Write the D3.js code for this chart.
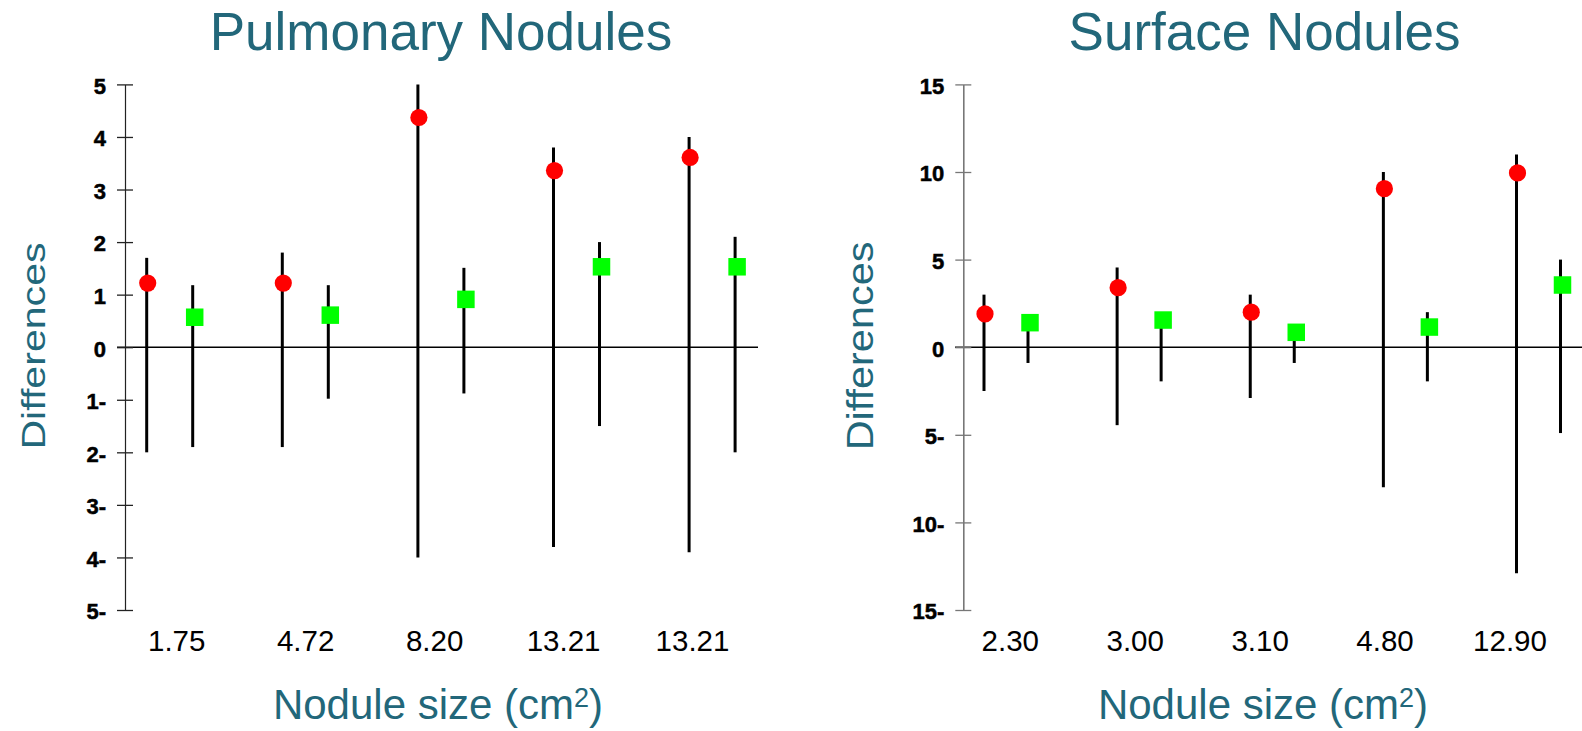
<!DOCTYPE html>
<html>
<head>
<meta charset="utf-8">
<script src="https://cdn.jsdelivr.net/npm/d3@7/dist/d3.min.js"></script>
<style>
  html, body { margin: 0; padding: 0; background: #fff; }
  svg { display: block; }
</style>
</head>
<body>
<svg id="chart" width="1582" height="731"></svg>
<script>
// ---------- Data ----------
const pulmTitle = "Pulmonary Nodules";
const pulmCategories = ["1.75", "4.72", "8.20", "13.21", "13.21"];
const pulmRedMean  = [1.22, 1.22, 4.37, 3.36, 3.61];
const pulmRedHigh  = [1.70, 1.80, 5.00, 3.80, 4.00];
const pulmRedLow   = [-2.00, -1.90, -4.00, -3.80, -3.90];
const pulmGreenMean = [0.57, 0.61, 0.91, 1.53, 1.53];
const pulmGreenHigh = [1.18, 1.18, 1.51, 2.00, 2.10];
const pulmGreenLow  = [-1.90, -0.98, -0.88, -1.50, -2.00];
const pulmTicks = [5, 4, 3, 2, 1, 0, -1, -2, -3, -4, -5];

const surfTitle = "Surface Nodules";
const surfCategories = ["2.30", "3.00", "3.10", "4.80", "12.90"];
const surfRedMean  = [1.90, 3.40, 2.00, 9.05, 9.95];
const surfRedHigh  = [3.00, 4.55, 3.00, 10.00, 11.00];
const surfRedLow   = [-2.50, -4.45, -2.90, -8.00, -12.90];
const surfGreenMean = [1.40, 1.55, 0.85, 1.15, 3.55];
const surfGreenHigh = [1.40, 1.55, 0.85, 2.00, 5.00];
const surfGreenLow  = [-0.90, -1.95, -0.90, -1.95, -4.90];
const surfTicks = [15, 10, 5, 0, -5, -10, -15];

const yTitle = "Differences";
const xTitle = "Nodule size (cm";
const xTitleSup = "2";

// ---------- Styles ----------
const TEAL = "#22677a";
const RED = "#ff0000";
const GREEN = "#00ff00";

const svg = d3.select("#chart");

function drawPanel(o) {
  const g = svg.append("g");
  const y = d3.scaleLinear().domain(o.yDomain).range([610, 84.4]);
  const idx = d3.range(o.categories.length);
  const xc = d3.scalePoint().domain(idx).range(o.pairRange);
  const xl = d3.scalePoint().domain(idx).range(o.labelRange);

  // zero line
  g.append("line")
    .attr("x1", o.zeroX[0]).attr("x2", o.zeroX[1])
    .attr("y1", y(0)).attr("y2", y(0))
    .attr("stroke", "#000").attr("stroke-width", 1.6);

  // y axis
  const axis = d3.axisLeft(y)
    .tickValues(o.ticks)
    .tickSize(8)
    .tickSizeOuter(0)
    .tickPadding(11)
    .tickFormat(v => v < 0 ? Math.abs(v) + "-" : String(v));
  const ag = g.append("g").attr("transform", `translate(${o.axisX},0)`).call(axis);
  ag.attr("font-size", null).attr("font-family", null);
  ag.select(".domain").attr("stroke", o.axisColor).attr("stroke-width", o.axisWidth);
  ag.selectAll(".tick line").attr("x1", -8).attr("x2", 8)
    .attr("stroke", o.axisColor).attr("stroke-width", 1.3);
  ag.selectAll(".tick text")
    .style("font-family", "'Liberation Sans', Arial, sans-serif")
    .style("font-weight", "bold")
    .style("font-size", "22px")
    .attr("fill", "#000")
    .attr("stroke", "#000")
    .attr("stroke-width", 0.5)
    .attr("dy", "0.4em");

  // whiskers
  const stems = [];
  idx.forEach(i => {
    stems.push({x: xc(i) - o.half, lo: o.redLow[i], hi: o.redHigh[i]});
    stems.push({x: xc(i) + o.half, lo: o.greenLow[i], hi: o.greenHigh[i]});
  });
  g.selectAll("line.stem").data(stems).join("line")
    .attr("class", "stem")
    .attr("x1", d => d.x).attr("x2", d => d.x)
    .attr("y1", d => y(d.hi)).attr("y2", d => y(d.lo))
    .attr("stroke", "#000").attr("stroke-width", 3);

  // red circles
  g.selectAll("circle.red").data(idx).join("circle")
    .attr("class", "red")
    .attr("cx", i => xc(i) - o.half + 1)
    .attr("cy", i => y(o.redMean[i]))
    .attr("r", 8.6)
    .attr("fill", RED);

  // green squares
  const s = 17.5;
  g.selectAll("rect.green").data(idx).join("rect")
    .attr("class", "green")
    .attr("x", i => xc(i) + o.half + 2 - s / 2)
    .attr("y", i => y(o.greenMean[i]) - s / 2)
    .attr("width", s).attr("height", s)
    .attr("fill", GREEN);

  // x category labels
  g.selectAll("text.cat").data(idx).join("text")
    .attr("class", "cat")
    .attr("x", i => xl(i))
    .attr("y", 651)
    .attr("text-anchor", "middle")
    .attr("font-family", "'Liberation Sans', Arial, sans-serif")
    .attr("font-size", 29.5)
    .attr("fill", "#000")
    .text(i => o.categories[i]);

  // title
  g.append("text")
    .attr("x", o.titleX).attr("y", 50)
    .attr("text-anchor", "middle")
    .attr("font-family", "'Liberation Sans', Arial, sans-serif")
    .attr("font-size", 53)
    .attr("fill", TEAL)
    .text(o.title);

  // x axis title
  const xt = g.append("text")
    .attr("x", o.xTitleX).attr("y", 719)
    .attr("text-anchor", "middle")
    .attr("font-family", "'Liberation Sans', Arial, sans-serif")
    .attr("font-size", 42)
    .attr("fill", TEAL);
  xt.append("tspan").text(xTitle);
  xt.append("tspan").attr("font-size", 27).attr("dy", -12).text(xTitleSup);
  xt.append("tspan").attr("dy", 12).text(")");

  // y axis title
  g.append("text")
    .attr("transform", `translate(${o.yTitleX},346) rotate(-90) scale(${o.yTitleScale},1)`)
    .attr("text-anchor", "middle")
    .attr("font-family", "'Liberation Sans', Arial, sans-serif")
    .attr("font-size", o.yTitleSize)
    .attr("fill", TEAL)
    .text(yTitle);
}

drawPanel({
  title: pulmTitle, titleX: 441,
  categories: pulmCategories,
  redMean: pulmRedMean, redHigh: pulmRedHigh, redLow: pulmRedLow,
  greenMean: pulmGreenMean, greenHigh: pulmGreenHigh, greenLow: pulmGreenLow,
  ticks: pulmTicks, yDomain: [-5, 5],
  axisX: 125, axisColor: "#222", axisWidth: 1.2,
  zeroX: [117, 758],
  pairRange: [169.7, 712.1], half: 23,
  labelRange: [176.7, 692.5],
  xTitleX: 438,
  yTitleX: 45, yTitleSize: 32.5, yTitleScale: 1.265
});

drawPanel({
  title: surfTitle, titleX: 1264.5,
  categories: surfCategories,
  redMean: surfRedMean, redHigh: surfRedHigh, redLow: surfRedLow,
  greenMean: surfGreenMean, greenHigh: surfGreenHigh, greenLow: surfGreenLow,
  ticks: surfTicks, yDomain: [-15, 15],
  axisX: 963.3, axisColor: "#777", axisWidth: 1.6,
  zeroX: [955, 1582],
  pairRange: [1006, 1538.5], half: 22,
  labelRange: [1010.3, 1510],
  xTitleX: 1263,
  yTitleX: 873, yTitleSize: 37, yTitleScale: 1.12
});
</script>
</body>
</html>
